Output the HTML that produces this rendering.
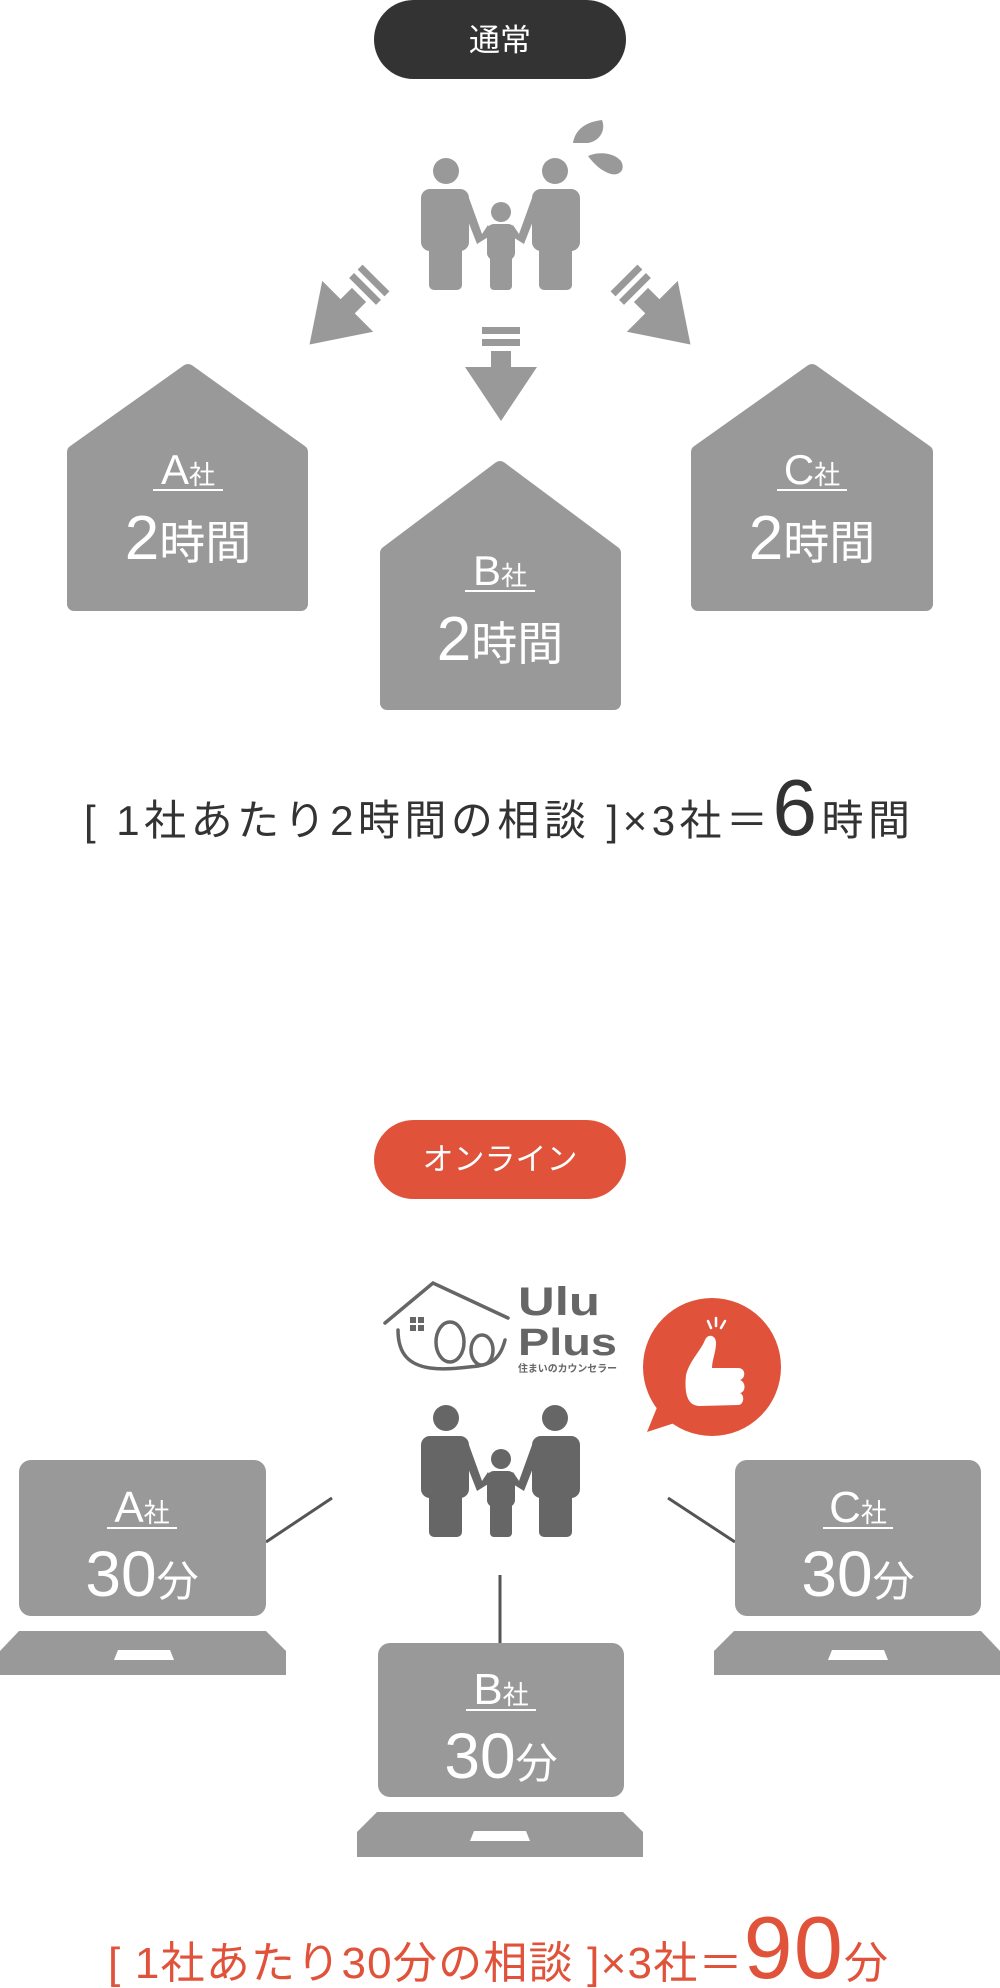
<!DOCTYPE html>
<html><head><meta charset="utf-8"><style>
html,body{margin:0;padding:0;background:#fff;}
svg{display:block;}
text{font-family:"Liberation Sans","Noto Sans CJK JP",sans-serif;}
.n{font-family:"Liberation Sans Narrow","Liberation Sans","Noto Sans CJK JP",sans-serif;}
</style></head><body>
<svg width="1000" height="1988" viewBox="0 0 1000 1988" xmlns="http://www.w3.org/2000/svg">
<defs>
  <g id="fam">
    <circle cx="25" cy="13" r="13"/>
    <circle cx="134" cy="13" r="13"/>
    <circle cx="80" cy="54" r="10"/>
    <rect x="0" y="31" width="48" height="62" rx="9"/>
    <rect x="8" y="80" width="33" height="52" rx="5"/>
    <rect x="111" y="31" width="48" height="62" rx="9"/>
    <rect x="118" y="80" width="33" height="52" rx="5"/>
    <rect x="66" y="66" width="28" height="36" rx="7"/>
    <rect x="69" y="90" width="22" height="42" rx="4"/>
    <path d="M38 40 L56 86 L72 76 L67 67 L61 76 L48 40 Z"/>
    <path d="M121 40 L103 86 L87 76 L92 67 L98 76 L111 40 Z"/>
  </g>
  <g id="arr">
    <rect x="-19" y="0" width="38" height="7"/>
    <rect x="-19" y="12" width="38" height="7"/>
    <rect x="-10" y="24" width="20" height="20"/>
    <polygon points="-36,40 36,40 0,94"/>
  </g>
</defs>

<!-- top pill -->
<rect x="374" y="0" width="252" height="79" rx="39.5" fill="#333"/>
<text x="500" y="51" font-size="31" fill="#fff" text-anchor="middle">通常</text>

<!-- family top -->
<use href="#fam" x="421" y="158" fill="#999"/>
<!-- drops -->
<path d="M573 143 C575 130 585 122 602 120 C606 130 600 141 588 143 Z" fill="#999"/>
<path d="M588 156 C600 151 614 153 621 161 C626 170 619 176 611 174 C601 171 594 164 588 156 Z" fill="#999"/>

<!-- arrows -->
<g fill="#999">
  <use href="#arr" transform="translate(501 327)"/>
  <use href="#arr" transform="translate(376 278) rotate(45)"/>
  <use href="#arr" transform="translate(624 278) rotate(-45)"/>
</g>

<!-- houses -->
<g fill="#999" stroke="#999" stroke-width="14" stroke-linejoin="round">
  <polygon points="74,452 188,371 301,452 301,604 74,604"/>
  <polygon points="698,452 812,371 926,452 926,604 698,604"/>
  <polygon points="387,553 500,468 614,553 614,703 387,703"/>
</g>
<g fill="#fff">
  <text x="188" y="484" font-size="42" text-anchor="middle" class="n">A<tspan font-size="26">社</tspan></text>
  <rect x="153" y="489" width="70" height="2"/>
  <text x="188" y="559" font-size="62" text-anchor="middle" class="n">2<tspan font-size="46">時間</tspan></text>
  <text x="812" y="484" font-size="42" text-anchor="middle" class="n">C<tspan font-size="26">社</tspan></text>
  <rect x="777" y="489" width="70" height="2"/>
  <text x="812" y="559" font-size="62" text-anchor="middle" class="n">2<tspan font-size="46">時間</tspan></text>
  <text x="500" y="585" font-size="42" text-anchor="middle" class="n">B<tspan font-size="26">社</tspan></text>
  <rect x="465" y="590" width="70" height="2"/>
  <text x="500" y="660" font-size="62" text-anchor="middle" class="n">2<tspan font-size="46">時間</tspan></text>
</g>

<!-- bottom line 1 -->
<text x="84" y="835" font-size="42" fill="#333" textLength="826" lengthAdjust="spacing">[ 1社あたり2時間の相談 ]×3社＝<tspan font-size="80" class="n">6</tspan>時間</text>

<!-- online pill -->
<rect x="374" y="1120" width="252" height="79" rx="39.5" fill="#e0533a"/>
<text x="500" y="1170" font-size="31" fill="#fff" text-anchor="middle">オンライン</text>

<!-- logo -->
<g fill="none" stroke="#666" stroke-width="3.5" stroke-linecap="round">
  <path d="M385 1323 L433 1283 L508 1318"/>
  <path d="M398 1330 C398 1355 410 1365 430 1368 C445 1370 460 1368 478 1366 C490 1364 500 1360 505 1340"/>
  <ellipse cx="450" cy="1342" rx="14" ry="20"/>
  <ellipse cx="482" cy="1350" rx="11" ry="15"/>
</g>
<g fill="#666">
  <rect x="410" y="1317" width="6" height="6"/><rect x="418" y="1317" width="6" height="6"/>
  <rect x="410" y="1325" width="6" height="6"/><rect x="418" y="1325" width="6" height="6"/>
  <text x="518" y="1315" font-size="40" font-weight="bold" textLength="82" lengthAdjust="spacingAndGlyphs">Ulu</text>
  <text x="518" y="1355" font-size="38" font-weight="bold" textLength="99" lengthAdjust="spacingAndGlyphs">Plus</text>
  <text x="518" y="1372" font-size="10" font-weight="bold" textLength="99" lengthAdjust="spacingAndGlyphs">住まいのカウンセラー</text>
</g>

<!-- bubble -->
<circle cx="712" cy="1367" r="69" fill="#e0533a"/>
<polygon points="660,1400 647,1432 690,1418" fill="#e0533a"/>
<path d="M686 1375 C690 1360 700 1352 705 1340 C708 1333 716 1335 716 1343 C716 1352 712 1360 712 1368 L738 1368 C746 1368 746 1378 740 1380 C746 1382 746 1392 740 1393 C745 1395 744 1405 738 1405 L700 1406 C688 1406 684 1395 686 1375 Z" fill="#fff"/>
<g stroke="#fff" stroke-width="2.5" stroke-linecap="round">
  <line x1="708" y1="1321" x2="711" y2="1328"/>
  <line x1="716" y1="1318" x2="716" y2="1326"/>
  <line x1="725" y1="1321" x2="721" y2="1328"/>
</g>

<!-- family dark -->
<use href="#fam" x="421" y="1405" fill="#666"/>

<!-- connectors -->
<g stroke="#555" stroke-width="3">
  <line x1="266" y1="1542" x2="332" y2="1498"/>
  <line x1="668" y1="1498" x2="735" y2="1542"/>
  <line x1="500" y1="1575" x2="500" y2="1643"/>
</g>

<!-- laptops -->
<g fill="#999">
  <rect x="19" y="1460" width="247" height="156" rx="12"/>
  <path d="M19 1631 L266 1631 L286 1651 L286 1675 L0 1675 L0 1651 Z"/>
  <rect x="735" y="1460" width="246" height="156" rx="12"/>
  <path d="M734 1631 L981 1631 L1000 1651 L1000 1675 L714 1675 L714 1651 Z"/>
  <rect x="378" y="1643" width="246" height="154" rx="12"/>
  <path d="M377 1812 L623 1812 L643 1832 L643 1857 L357 1857 L357 1832 Z"/>
</g>
<g fill="#fff">
  <polygon points="118,1650 170,1650 174,1660 114,1660"/>
  <polygon points="832,1650 884,1650 888,1660 828,1660"/>
  <polygon points="474,1831 526,1831 530,1841 470,1841"/>
  <text x="142" y="1522" font-size="44" text-anchor="middle" class="n">A<tspan font-size="26">社</tspan></text>
  <rect x="107" y="1527" width="70" height="2"/>
  <text x="142" y="1596" font-size="64" text-anchor="middle" class="n">30<tspan font-size="42">分</tspan></text>
  <text x="858" y="1522" font-size="44" text-anchor="middle" class="n">C<tspan font-size="26">社</tspan></text>
  <rect x="823" y="1527" width="70" height="2"/>
  <text x="858" y="1596" font-size="64" text-anchor="middle" class="n">30<tspan font-size="42">分</tspan></text>
  <text x="501" y="1704" font-size="44" text-anchor="middle" class="n">B<tspan font-size="26">社</tspan></text>
  <rect x="466" y="1709" width="70" height="2"/>
  <text x="501" y="1778" font-size="64" text-anchor="middle" class="n">30<tspan font-size="42">分</tspan></text>
</g>

<!-- bottom red line -->
<text x="108" y="1978" font-size="44" fill="#e0533a" textLength="780" lengthAdjust="spacing">[ 1社あたり30分の相談 ]×3社＝<tspan font-size="88" class="n">90</tspan>分</text>
</svg>
</body></html>
